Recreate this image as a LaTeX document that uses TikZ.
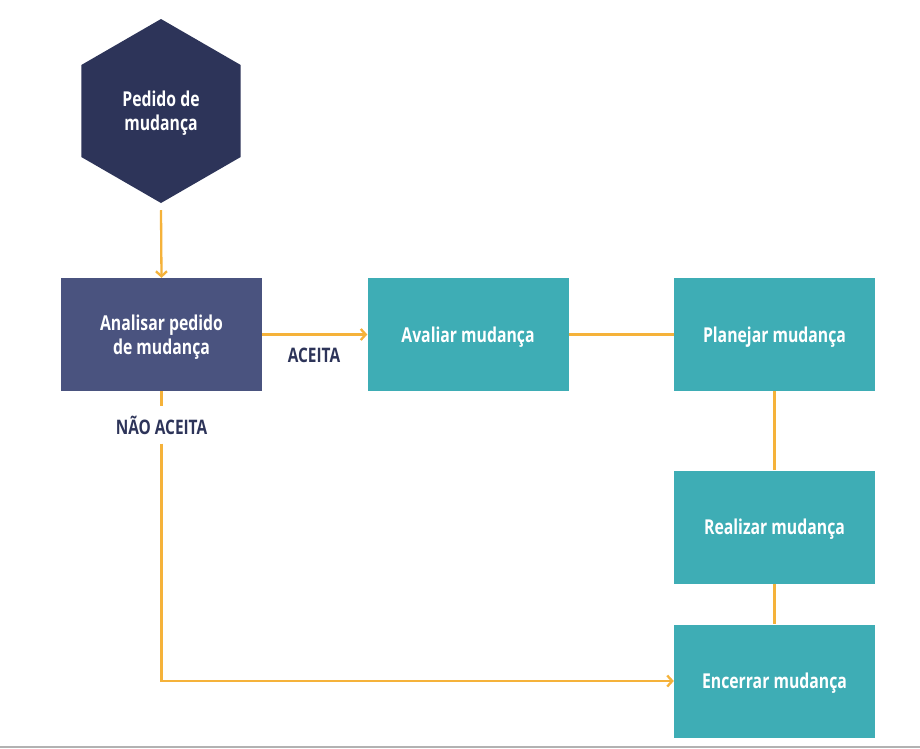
\documentclass[tikz,border=0pt]{standalone}
\usepackage{fontspec}
\setmainfont{Open Sans}[FakeStretch=0.77]
\usetikzlibrary{shapes.geometric,arrows.meta}
\definecolor{navy}{HTML}{2D3459}
\definecolor{slate}{HTML}{4A537F}
\definecolor{teal2}{HTML}{3EADB5}
\definecolor{orng}{HTML}{F5B23A}
\tikzset{
  boxfont/.style={font=\fontsize{20.5}{24}\selectfont\bfseries},
  box/.style={rectangle, minimum width=201pt, minimum height=113pt, inner sep=0pt,
    text=white, align=center, text depth=0pt, boxfont},
  tealbox/.style={box, fill=teal2},
  conn/.style={draw=orng, line width=2.3pt},
  arr/.style={conn, -{Straight Barb[length=5pt,width=11pt,line width=2.3pt]}},
  lbl/.style={text=navy, font=\fontsize{20}{24}\selectfont\bfseries, inner sep=0pt}
}
\begin{document}
\begin{tikzpicture}[x=1pt,y=-1pt]
\useasboundingbox (0,0) rectangle (920,748);
\fill[white] (0,0) rectangle (920,748);
\node[regular polygon, regular polygon sides=6, regular polygon rotate=30,
  minimum size=184pt, inner sep=0pt, fill=navy, text=white, align=center,
  text depth=0pt, boxfont] (hex) at (161,111) {Pedido de\\mudança};
\node[box, fill=slate] (ana) at (161.5,334.5) {Analisar pedido\\de mudança};
\node[tealbox] (ava) at (468,334.5) {Avaliar mudança};
\node[tealbox] (pla) at (774.5,334.5) {Planejar mudança};
\node[tealbox] (rea) at (774.5,527) {Realizar mudança};
\node[tealbox] (enc) at (774.5,681) {Encerrar mudança};
\node[lbl] (aceita) at (314,355) {ACEITA};
\node[lbl, inner ysep=9pt, inner xsep=4pt] (nao) at (161.5,425) {NÃO ACEITA};
\draw[arr] (hex.south) ++(0,7) -- (ana.north);
\draw[arr] (ana.east) -- (ava.west);
\draw[conn] (ava.east) -- (pla.west);
\draw[conn] (pla.south) -- (rea.north);
\draw[conn] (rea.south) -- (enc.north);
\draw[conn] (ana.south) -- (nao.north);
\draw[arr] (nao.south) |- (enc.west);
\draw[black!30, line width=1.5pt] (0,747) -- (920,747);
\end{tikzpicture}
\end{document}
